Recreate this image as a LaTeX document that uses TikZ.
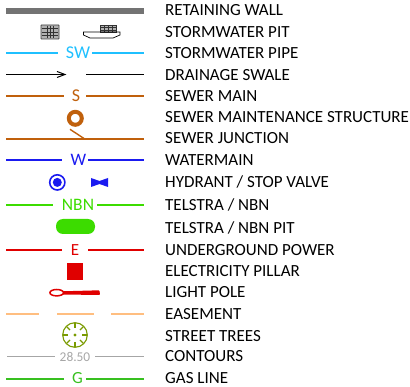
\documentclass[tikz,border=0pt]{standalone}
\usepackage{fontspec}
\setmainfont{Carlito}
\definecolor{cSW}{HTML}{1FC0FF}
\definecolor{cS}{HTML}{C0600C}
\definecolor{cW}{HTML}{1A1AF0}
\definecolor{cN}{HTML}{3CDC00}
\definecolor{cE}{HTML}{E00000}
\definecolor{cEa}{HTML}{FFBE80}
\definecolor{cT}{HTML}{7A9A00}
\definecolor{cC}{HTML}{A6A6A6}
\definecolor{cG}{HTML}{38C020}
\tikzset{
 lab/.style={anchor=west,inner sep=0pt,font=\fontsize{17}{19}\selectfont,text=black},
 sym/.style={inner sep=0pt,font=\fontsize{#1}{22}\selectfont},
 sym/.default=15,
 svc/.style={line width=1.8pt},
 pitline/.style={line width=.55pt,draw=black!80}
}
\begin{document}
\begin{tikzpicture}[x=1pt,y=-1pt]
\useasboundingbox (0,0) rectangle (410,387);
% retaining wall
\fill[black!55] (6,8) rectangle (144,14);
% stormwater pit
\fill[black!30,draw=black!75,line width=.9pt,rounded corners=.5pt] (41,25) rectangle (59,39);
\foreach \x in {47,50,53}{\draw[pitline] (\x,26)--(\x,38);}
\foreach \y in {28.5,32,35.5}{\draw[pitline] (42,\y)--(58,\y);}
\fill[black!30] (100.5,25) rectangle (116.5,32);
\foreach \x in {104.5,108.5,112.5}{\draw[pitline] (\x,25)--(\x,32);}
\foreach \y in {27.5,30}{\draw[pitline] (100.5,\y)--(116.5,\y);}
\draw[pitline] (100.5,25) rectangle (116.5,32);
\draw[line width=.7pt,black] (83.5,32) -- (120,32) -- (120,35) -- (113,38) -- (90,38) -- (83.5,35) -- cycle;
% SW
\node[sym=18,text=cSW] (swt) at (78,53) {SW};
\draw[svc,draw=cSW] (6,53) -- (58,53) (92,53) -- (144,53);
% swale
\draw[line width=1pt,black] (6,74.5) -- (63,74.5);
\draw[line width=1pt,black] (57,71.5) -- (65,74.5) -- (57,77.5);
\draw[line width=1pt,black] (86,74.5) -- (144,74.5);
% sewer
\node[sym=18,text=cS] (st) at (76,95.5) {S};
\draw[svc,draw=cS] (6,96) -- (64,96) (86,96) -- (144,96);
\draw[cS,line width=4pt] (75.3,118.3) circle (6.5);
\draw[svc,draw=cS] (6,139) -- (144,139);
\draw[line width=1.4pt,cS] (70,129.3) -- (84,138.5);
% water
\node[sym=17.5,text=cW] (wt) at (78.5,160) {W};
\draw[svc,draw=cW] (6,160) -- (62,160) (88,160) -- (144,160);
\draw[cW,line width=1.6pt] (57.3,182.4) circle (7.6);
\fill[cW] (57.3,182.4) circle (4.5);
\fill[cW] (91,178) -- (99.5,181) -- (108,178) -- (108,187) -- (99.5,184) -- (91,187) -- cycle;
% NBN
\node[sym=17.5,text=cN] (nt) at (78,205) {NBN};
\draw[svc,draw=cN] (6,205) -- (53,205) (97,205) -- (144,205);
\fill[cN,rounded corners=7pt] (56,219) rectangle (95,234);
% electricity
\node[sym=17,text=cE] (et) at (75,250) {E};
\draw[svc,draw=cE] (6,250) -- (62,250) (88,250) -- (144,250);
\fill[cE] (67,263) rectangle (83,280);
% light pole
\fill[cE,rounded corners=.8pt] (62,291.3) -- (99.5,290.3) -- (100,295) -- (62,294.5) -- cycle;
\draw[cE,line width=1.5pt,fill=white] (56.7,292.7) ellipse (6.8 and 3.2);
% easement
\draw[svc,draw=cEa] (6,314) -- (39,314) (57,314) -- (94,314) (111,314) -- (144,314);
% tree
\draw[cT,line width=1.1pt] (75,335) circle (12.3);
\fill[cT] (75,335) circle (1.7);
\foreach \a in {45,135,225,315,0,90,180,270}{\draw[cT,line width=1.1pt] (75,335) ++(\a:7) -- ++(\a:5);}
% contours
\node[sym=13.4,text=cC] (ct) at (75,356.5) {28.50};
\draw[line width=1pt,draw=cC] (7,356.5) -- (55,356.5) (95,356.5) -- (144,356.5);
% gas
\node[sym=17,text=cG] (gt) at (77.5,378.5) {G};
\draw[svc,draw=cG] (6,379) -- (64,379) (86,379) -- (144,379);
% labels
\foreach \n/\y/\t in {a/10/{RETAINING WALL},b/32/{STORMWATER PIT},c/53/{STORMWATER PIPE},d/75/{DRAINAGE SWALE},e/96/{SEWER MAIN},f/117/{SEWER MAINTENANCE STRUCTURE},g/138/{SEWER JUNCTION},h/160/{WATERMAIN},i/182/{HYDRANT / STOP VALVE},j/205/{TELSTRA / NBN},k/228/{TELSTRA / NBN PIT},l/250/{UNDERGROUND POWER},m/271/{ELECTRICITY PILLAR},n/292/{LIGHT POLE},o/314/{EASEMENT},p/336/{STREET TREES},q/356/{CONTOURS},r/378/{GAS LINE}}
 {\node[lab] (lab\n) at (165,\y) {\t};}
\end{tikzpicture}
\end{document}
